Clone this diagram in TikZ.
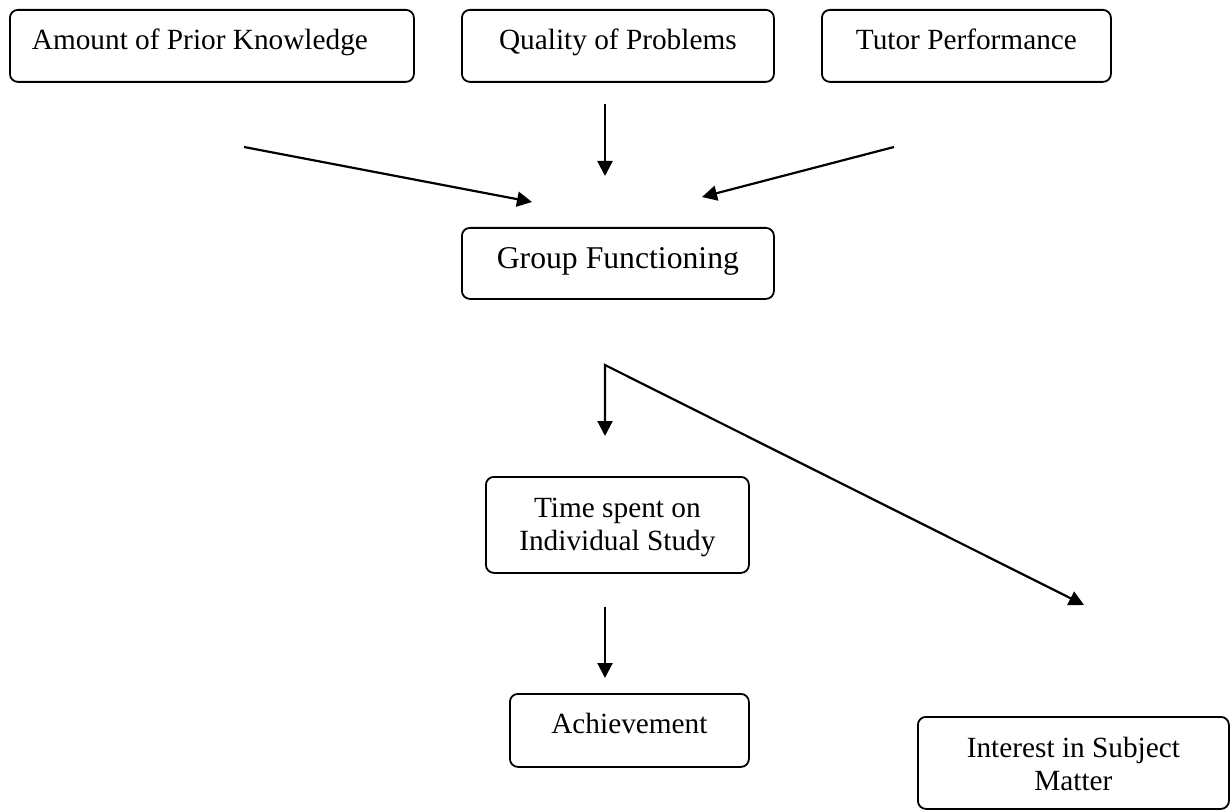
\documentclass[tikz,border=0pt]{standalone}
\usepackage{fontspec}
\setmainfont{Liberation Serif}
\usetikzlibrary{arrows.meta}
\tikzset{
  box/.style={draw, line width=1.8pt, rounded corners=8pt, anchor=north west,
    inner xsep=0pt, inner ysep=0pt, font=\fontsize{29.3}{33}\selectfont},
  conn/.style={line width=2.2pt, -{Triangle[length=15pt,width=15pt]}},
  fork/.style={line width=2.2pt, {Triangle[length=15pt,width=15pt]}-{Triangle[length=15pt,width=15pt]}},
}
\begin{document}
\begin{tikzpicture}[x={(1pt,0)}, y={(0,-1pt)}]
\useasboundingbox (0,0) rectangle (1231,810);

% boxes
\node[box, minimum width=404pt, text height=40pt, text depth=32pt]
  (prior) at (9,9) {Amount of Prior Knowledge\kern24pt\relax};
\node[box, minimum width=312pt, text height=40pt, text depth=32pt]
  (quality) at (461,9) {Quality of Problems};
\node[box, minimum width=289pt, text height=40pt, text depth=32pt]
  (tutor) at (821,9) {Tutor Performance};
\node[box, minimum width=312pt, text height=41pt, text depth=30pt, font=\fontsize{31.7}{35}\selectfont]
  (group) at (461,227) {Group Functioning};
\node[box, minimum width=263pt, align=center, text height=74pt, text depth=22pt]
  (time) at (485,476) {Time spent on\\Individual Study};
\node[box, minimum width=239pt, text height=40pt, text depth=33pt]
  (achieve) at (509,693) {Achievement};
\node[box, minimum width=311pt, align=center, text height=74pt, text depth=18pt]
  (interest) at (917,716) {Interest in Subject\\Matter};

% connector ends
\coordinate (a1s) at (244,147);
\coordinate (a1e) at (532,202);
\coordinate (a2s) at (605,104);
\coordinate (a2e) at (605,176);
\coordinate (a3s) at (894,147);
\coordinate (a3e) at (702,197);
\coordinate (forkpt) at (605,365);
\coordinate (a4e) at (605,436);
\coordinate (a5e) at (1084,605);
\coordinate (a6s) at (605,607);
\coordinate (a6e) at (605,678);

% connectors
\draw[conn] (a1s) -- (a1e);
\draw[conn] (a2s) -- (a2e);
\draw[conn] (a3s) -- (a3e);
\draw[fork] (a4e) -- (forkpt) -- (a5e);
\draw[conn] (a6s) -- (a6e);
\end{tikzpicture}
\end{document}
